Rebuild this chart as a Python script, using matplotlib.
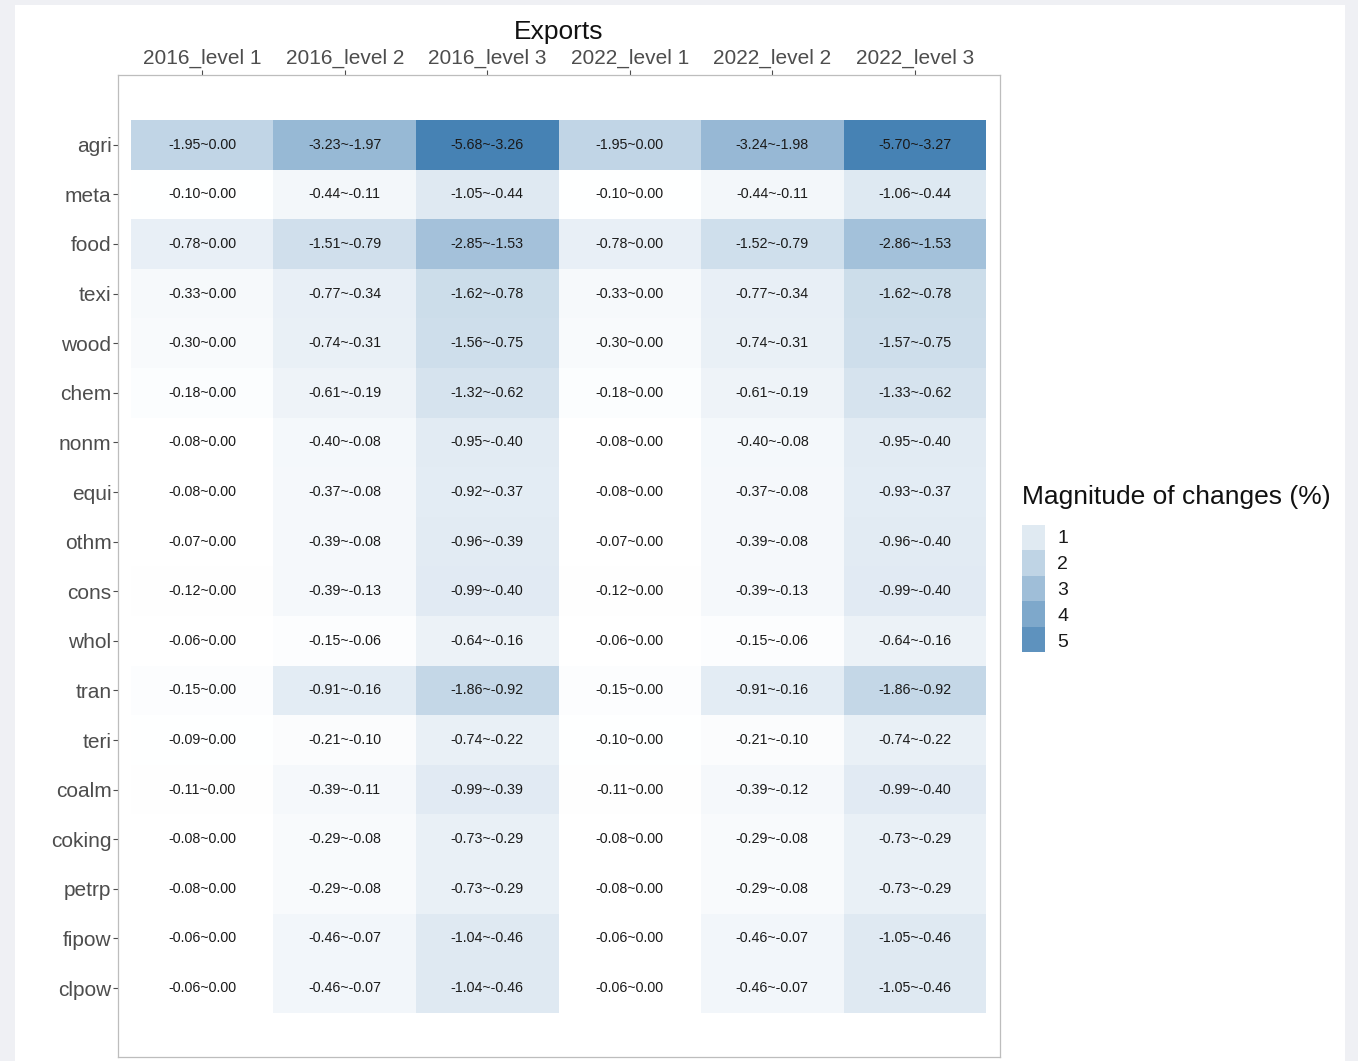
import numpy as np
import matplotlib
matplotlib.use("Agg")
import matplotlib.pyplot as plt
from matplotlib.colors import LinearSegmentedColormap, Normalize
from matplotlib.patches import Rectangle

plt.rcParams['font.family'] = ['Liberation Sans', 'DejaVu Sans']

sectors = ["agri", "meta", "food", "texi", "wood", "chem", "nonm", "equi", "othm",
           "cons", "whol", "tran", "teri", "coalm", "coking", "petrp", "fipow", "clpow"]
scenarios = ["2016_level 1", "2016_level 2", "2016_level 3",
             "2022_level 1", "2022_level 2", "2022_level 3"]

lo_2016_l1 = [-1.95, -0.10, -0.78, -0.33, -0.30, -0.18, -0.08, -0.08, -0.07, -0.12, -0.06, -0.15, -0.09, -0.11, -0.08, -0.08, -0.06, -0.06]
hi_2016_l1 = [0.00] * 18
lo_2016_l2 = [-3.23, -0.44, -1.51, -0.77, -0.74, -0.61, -0.40, -0.37, -0.39, -0.39, -0.15, -0.91, -0.21, -0.39, -0.29, -0.29, -0.46, -0.46]
hi_2016_l2 = [-1.97, -0.11, -0.79, -0.34, -0.31, -0.19, -0.08, -0.08, -0.08, -0.13, -0.06, -0.16, -0.10, -0.11, -0.08, -0.08, -0.07, -0.07]
lo_2016_l3 = [-5.68, -1.05, -2.85, -1.62, -1.56, -1.32, -0.95, -0.92, -0.96, -0.99, -0.64, -1.86, -0.74, -0.99, -0.73, -0.73, -1.04, -1.04]
hi_2016_l3 = [-3.26, -0.44, -1.53, -0.78, -0.75, -0.62, -0.40, -0.37, -0.39, -0.40, -0.16, -0.92, -0.22, -0.39, -0.29, -0.29, -0.46, -0.46]
lo_2022_l1 = [-1.95, -0.10, -0.78, -0.33, -0.30, -0.18, -0.08, -0.08, -0.07, -0.12, -0.06, -0.15, -0.10, -0.11, -0.08, -0.08, -0.06, -0.06]
hi_2022_l1 = [0.00] * 18
lo_2022_l2 = [-3.24, -0.44, -1.52, -0.77, -0.74, -0.61, -0.40, -0.37, -0.39, -0.39, -0.15, -0.91, -0.21, -0.39, -0.29, -0.29, -0.46, -0.46]
hi_2022_l2 = [-1.98, -0.11, -0.79, -0.34, -0.31, -0.19, -0.08, -0.08, -0.08, -0.13, -0.06, -0.16, -0.10, -0.12, -0.08, -0.08, -0.07, -0.07]
lo_2022_l3 = [-5.70, -1.06, -2.86, -1.62, -1.57, -1.33, -0.95, -0.93, -0.96, -0.99, -0.64, -1.86, -0.74, -0.99, -0.73, -0.73, -1.05, -1.05]
hi_2022_l3 = [-3.27, -0.44, -1.53, -0.78, -0.75, -0.62, -0.40, -0.37, -0.40, -0.40, -0.16, -0.92, -0.22, -0.40, -0.29, -0.29, -0.46, -0.46]

legend_ticks = [1, 2, 3, 4, 5]

lo = np.array([lo_2016_l1, lo_2016_l2, lo_2016_l3, lo_2022_l1, lo_2022_l2, lo_2022_l3]).T
hi = np.array([hi_2016_l1, hi_2016_l2, hi_2016_l3, hi_2022_l1, hi_2022_l2, hi_2022_l3]).T
mag = np.abs(lo)

W, H = 1358, 1061
fig = plt.figure(figsize=(W / 100, H / 100), dpi=100)
fig.patch.set_facecolor('#eff0f4')
fig.patches.append(Rectangle((15 / W, 0), (1345 - 15) / W, (H - 5) / H,
                             transform=fig.transFigure, facecolor='white',
                             edgecolor='none', zorder=-10))

cmap = LinearSegmentedColormap.from_list('wsb', ['#ffffff', '#4682b4'])
norm = Normalize(vmin=mag.min(), vmax=mag.max())

ax = fig.add_axes([118 / W, 1 - 1057 / H, (1000 - 118) / W, (1057 - 75) / H])
ax.pcolormesh(np.arange(len(scenarios) + 1), np.arange(len(sectors) + 1), mag,
              cmap=cmap, norm=norm, edgecolors='none', antialiased=False)
ax.set_xlim(-0.091, 6.098)
ax.set_ylim(18.89, -0.907)

for i in range(len(sectors)):
    for j in range(len(scenarios)):
        ax.text(j + 0.5, i + 0.5, f"{lo[i, j]:.2f}~{hi[i, j]:.2f}",
                ha='center', va='center', fontsize=10.3, color='#1a1a1a')

ax.set_xticks(np.arange(len(scenarios)) + 0.5)
ax.set_xticklabels(scenarios)
ax.set_yticks(np.arange(len(sectors)) + 0.5)
ax.set_yticklabels(sectors)
ax.xaxis.tick_top()
ax.tick_params(axis='both', labelsize=15, colors='#4d4d4d', length=3.5, width=0.8, pad=1.2)
for s in ax.spines.values():
    s.set_color('#bdbdbd')
    s.set_linewidth(0.9)

fig.text(559 / W, 1 - 32 / H, "Exports", ha='center', va='center', fontsize=19, color='#111111')

# legend (colour bar)
fig.text(1022 / W, 1 - 497 / H, "Magnitude of changes (%)", ha='left', va='center',
         fontsize=19, color='#111111')
cax = fig.add_axes([1022 / W, 1 - 652 / H, 23 / W, 127 / H])
leg_lo, leg_hi = 0.534, 5.466
edges = np.linspace(leg_lo, leg_hi, len(legend_ticks) + 1)
mids = (edges[:-1] + edges[1:]) / 2
cax.pcolormesh([0, 1], edges, mids.reshape(-1, 1), cmap=cmap, norm=norm)
cax.set_ylim(leg_hi, leg_lo)
cax.set_xlim(0, 1)
cax.set_xticks([])
cax.yaxis.tick_right()
cax.set_yticks(legend_ticks)
cax.set_yticklabels([str(t) for t in legend_ticks])
cax.tick_params(axis='y', length=0, pad=9, labelsize=14, colors='#1a1a1a')
for s in cax.spines.values():
    s.set_visible(False)

fig.savefig("out.png", dpi=100)
